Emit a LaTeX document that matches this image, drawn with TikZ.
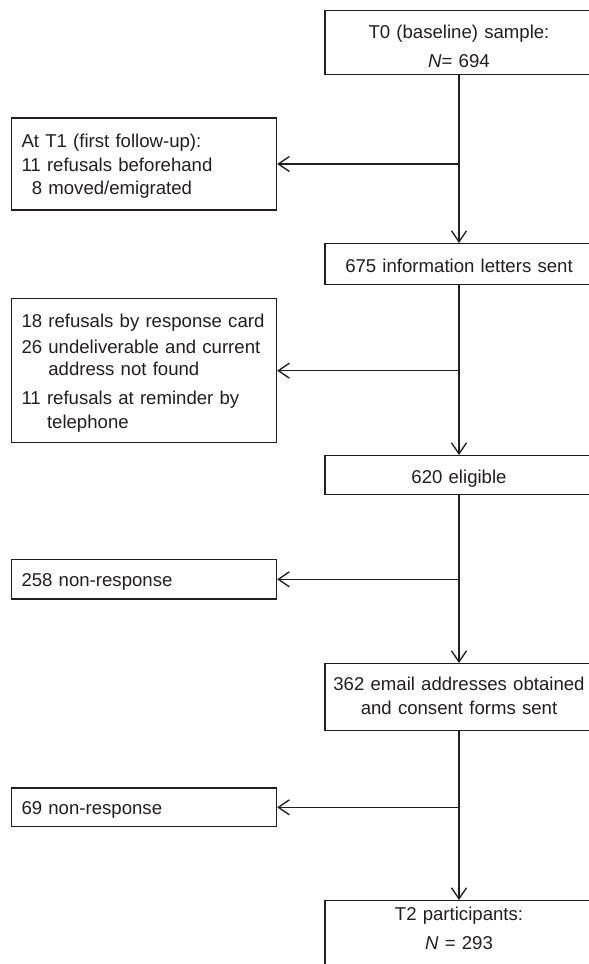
\documentclass[tikz,border=0pt]{standalone}
\usepackage{fontspec}
\setmainfont{Liberation Sans}
\usetikzlibrary{arrows.meta}
\definecolor{ink}{RGB}{35,31,32}
\tikzset{
  box/.style={draw=ink, text=ink, line width=1.35pt, inner xsep=0pt, inner ysep=0pt, anchor=north,
    font=\fontsize{18.6}{23.3}\selectfont},
  rbox/.style={box, text width=268pt, align=center},
  lbox/.style={box, text width=245pt, inner xsep=10pt, align=left},
  arr/.style={draw=ink, line width=1.35pt, -{Straight Barb[length=11pt,width=15pt]}},
}
\begin{document}
\begin{tikzpicture}[x=1pt,y=-1pt]
\clip (0,0) rectangle (589,964);
\fill[white] (0,0) rectangle (589,964);
% right column
\node[rbox, text height=27.5pt, text depth=36.5pt, font=\fontsize{18.6}{29}\selectfont] (b0) at (459,10)
  {T0 (baseline) sample:\\ \textit{N}= 694};
\node[rbox, text height=29pt, text depth=12pt] (b1) at (459,243) {675 information letters sent};
\node[rbox, text height=28.3pt, text depth=10.7pt] (b2) at (459,455) {620 eligible};
\node[rbox, text height=27pt, text depth=40pt, font=\fontsize{18.6}{23.5}\selectfont] (b3) at (459,663)
  {362 email addresses obtained\\ and consent forms sent};
\node[rbox, text height=20pt, text depth=70pt, font=\fontsize{18.6}{28.5}\selectfont] (b4) at (459,900)
  {T2 participants:\\ \textit{N} = 293};
% left column
\node[lbox, text height=30pt, text depth=62pt] (l1) at (144,117.3)
  {At T1 (first follow-up):\\ 11 refusals beforehand\\ \hphantom{1}8 moved/emigrated};
\node[lbox, text height=29.3pt, text depth=114.7pt, font=\fontsize{18.6}{22.3}\selectfont] (l2) at (144,298)
  {18 refusals by response card\\[3pt] 26 undeliverable and current\\ \hphantom{26\ }address not found\\[7pt]
   11 refusals at reminder by\\[1pt] \hphantom{11\ }telephone};
\node[lbox, text height=27pt, text depth=12.3pt] (l3) at (144,559) {258 non-response};
\node[lbox, text height=26.2pt, text depth=12.5pt] (l4) at (144,787.3) {69 non-response};
% connectors
\draw[arr] (b0.south) -- (b1.north);
\draw[arr] (b1.south) -- (b2.north);
\draw[arr] (b2.south) -- (b3.north);
\draw[arr] (b3.south) -- (b4.north);
\coordinate (j1) at (b0.south |- l1.east);
\coordinate (j2) at (b1.south |- l2.east);
\coordinate (j3) at (b2.south |- l3.east);
\coordinate (j4) at (b3.south |- l4.east);
\draw[arr] (j1) -- (l1.east);
\draw[arr] (j2) -- (l2.east);
\draw[arr] (j3) -- (l3.east);
\draw[arr] (j4) -- (l4.east);
\end{tikzpicture}
\end{document}
